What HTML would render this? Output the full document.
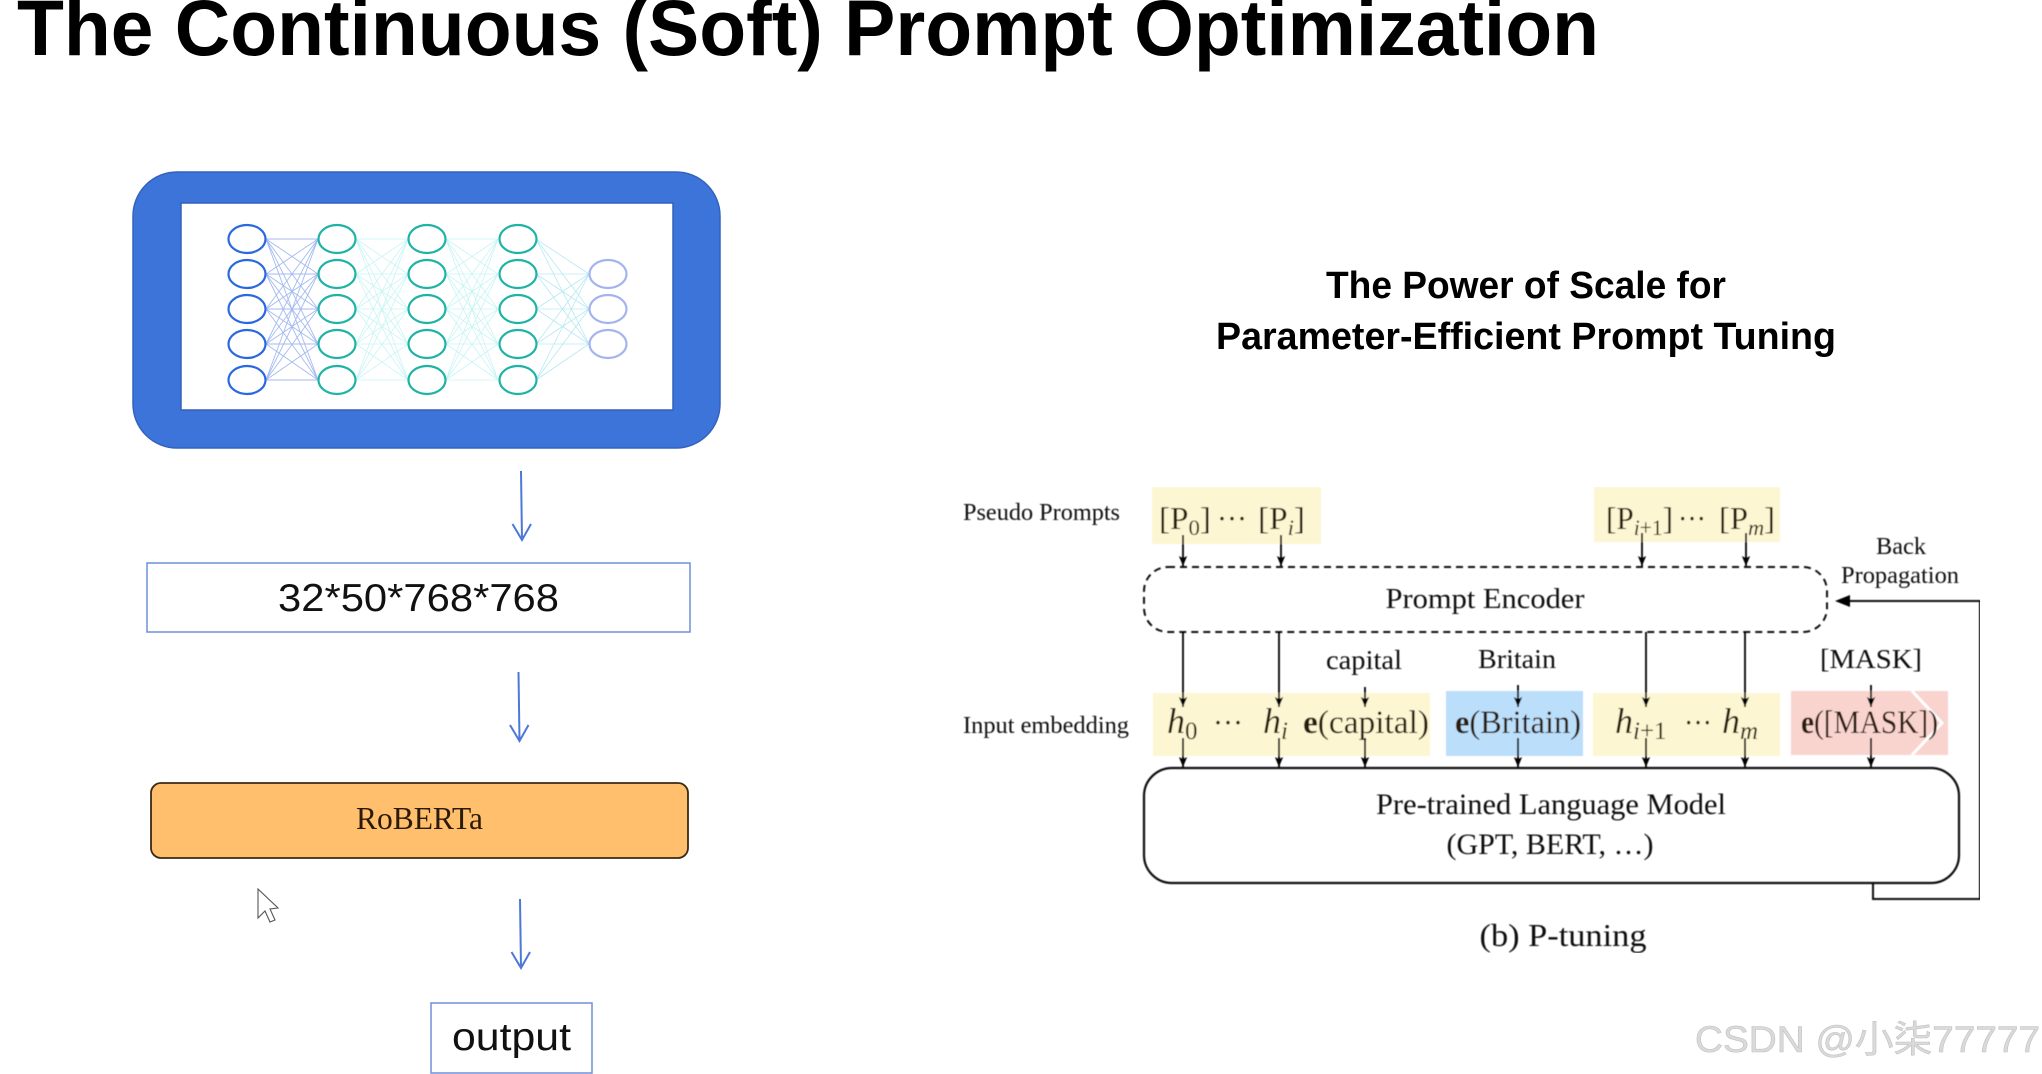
<!DOCTYPE html>
<html><head><meta charset="utf-8"><title>The Continuous (Soft) Prompt Optimization</title>
<style>
html,body{margin:0;padding:0;background:#fff;width:2042px;height:1074px;overflow:hidden}
svg{display:block}
.s{font-family:"Liberation Serif",serif;fill:#111}
.a{font-family:"Liberation Sans",sans-serif;fill:#000}
.m{font-family:"Liberation Serif",serif;fill:#2a1a08}
</style></head><body>
<svg width="2042" height="1074" viewBox="0 0 2042 1074" xmlns="http://www.w3.org/2000/svg">
<defs>
<filter id="b" x="0" y="0" width="100%" height="100%"><feGaussianBlur stdDeviation="0.45"/></filter>
<marker id="ah" markerUnits="userSpaceOnUse" markerWidth="10" markerHeight="14" refX="12" refY="5" orient="auto" viewBox="0 0 12 10"><path d="M0 0L12 5L0 10L2.500 5Z" fill="#000"/></marker>
<path id="c5" d="M0 239L52 239M0 239L52 274M0 239L52 309M0 239L52 344M0 239L52 380M0 274L52 239M0 274L52 274M0 274L52 309M0 274L52 344M0 274L52 380M0 309L52 239M0 309L52 274M0 309L52 309M0 309L52 344M0 309L52 380M0 344L52 239M0 344L52 274M0 344L52 309M0 344L52 344M0 344L52 380M0 380L52 239M0 380L52 274M0 380L52 309M0 380L52 344M0 380L52 380" fill="none"/>
<g id="ar" fill="none" stroke="#4c78d6" stroke-width="2"><path d="M0 0L1 69M-8.500 53L1 69L10 53"/></g>
</defs>
<rect width="2042" height="1074" fill="#fff"/>

<text class="a" x="17" y="55" font-size="79" font-weight="700" textLength="1582" lengthAdjust="spacingAndGlyphs">The Continuous (Soft) Prompt Optimization</text>

<!-- network -->
<rect x="133" y="172" width="587" height="276" rx="44" fill="#3c74d9" stroke="#3562bd" stroke-width="1.500"/>
<rect x="181" y="203" width="492" height="207" fill="#fff" stroke="#3360b8" stroke-width="1.500"/>
<use href="#c5" x="266" stroke="#7d9cea" stroke-width="0.900" opacity=".7"/>
<use href="#c5" x="356" stroke="#a3ecec" stroke-width="0.800" opacity=".6"/>
<use href="#c5" x="446" stroke="#a3ecec" stroke-width="0.800" opacity=".6"/>
<path d="M536 239L589 274M536 239L589 309M536 239L589 344M536 274L589 274M536 274L589 309M536 274L589 344M536 309L589 274M536 309L589 309M536 309L589 344M536 344L589 274M536 344L589 309M536 344L589 344M536 380L589 274M536 380L589 309M536 380L589 344" fill="none" stroke="#a3e3ee" stroke-width="0.800" opacity=".8"/>
<g fill="#fff" stroke="#2a68e0" stroke-width="2.200">
<ellipse cx="247" cy="239" rx="18.500" ry="14"/><ellipse cx="247" cy="274" rx="18.500" ry="14"/><ellipse cx="247" cy="309" rx="18.500" ry="14"/><ellipse cx="247" cy="344" rx="18.500" ry="14"/><ellipse cx="247" cy="380" rx="18.500" ry="14"/>
</g>
<g fill="#fff" stroke="#1fb3a5" stroke-width="2.200">
<ellipse cx="337" cy="239" rx="18.500" ry="14"/><ellipse cx="337" cy="274" rx="18.500" ry="14"/><ellipse cx="337" cy="309" rx="18.500" ry="14"/><ellipse cx="337" cy="344" rx="18.500" ry="14"/><ellipse cx="337" cy="380" rx="18.500" ry="14"/>
<ellipse cx="427" cy="239" rx="18.500" ry="14"/><ellipse cx="427" cy="274" rx="18.500" ry="14"/><ellipse cx="427" cy="309" rx="18.500" ry="14"/><ellipse cx="427" cy="344" rx="18.500" ry="14"/><ellipse cx="427" cy="380" rx="18.500" ry="14"/>
<ellipse cx="518" cy="239" rx="18.500" ry="14"/><ellipse cx="518" cy="274" rx="18.500" ry="14"/><ellipse cx="518" cy="309" rx="18.500" ry="14"/><ellipse cx="518" cy="344" rx="18.500" ry="14"/><ellipse cx="518" cy="380" rx="18.500" ry="14"/>
</g>
<g fill="#fff" stroke="#a3b4ee" stroke-width="2.200">
<ellipse cx="608" cy="274" rx="18.500" ry="14"/><ellipse cx="608" cy="309" rx="18.500" ry="14"/><ellipse cx="608" cy="344" rx="18.500" ry="14"/>
</g>

<!-- left flow -->
<use href="#ar" x="521" y="471"/>
<rect x="147" y="563" width="543" height="69" fill="#fff" stroke="#6f8fd8" stroke-width="1.500"/>
<text class="a" x="278" y="611" font-size="39" textLength="281" lengthAdjust="spacingAndGlyphs" style="fill:#111">32*50*768*768</text>
<use href="#ar" x="518.500" y="672"/>
<rect x="151" y="783" width="537" height="75" rx="10" fill="#ffbf6d" stroke="#3a2a12" stroke-width="1.800"/>
<text class="s" x="356" y="829" font-size="32" textLength="127" lengthAdjust="spacingAndGlyphs" style="fill:#2a1a08">RoBERTa</text>
<use href="#ar" x="520" y="899"/>
<rect x="431" y="1003" width="161" height="70" fill="#fff" stroke="#6f8fd8" stroke-width="1.500"/>
<text class="a" x="452" y="1050" font-size="39" textLength="119" lengthAdjust="spacingAndGlyphs" style="fill:#111">output</text>
<path d="M258 889L258 918L265 911L270 922L275 920L270 909L278 908Z" fill="#fff" stroke="#555" stroke-width="1.100"/>

<!-- right title -->
<text class="a" x="1526" y="298" font-size="38" font-weight="700" text-anchor="middle" textLength="400" lengthAdjust="spacingAndGlyphs">The Power of Scale for</text>
<text class="a" x="1526" y="349" font-size="38" font-weight="700" text-anchor="middle" textLength="620" lengthAdjust="spacingAndGlyphs">Parameter-Efficient Prompt Tuning</text>

<!-- P-tuning -->
<g filter="url(#b)">
<rect x="1152" y="487" width="169" height="57" fill="#fdf6d2"/>
<rect x="1594" y="487" width="186" height="55" fill="#fdf6d2"/>
<rect x="1153" y="693" width="277" height="63" fill="#fdf6d2"/>
<rect x="1446" y="691" width="137" height="65" fill="#bbdefb"/>
<rect x="1593" y="693" width="187" height="63" fill="#fdf6d2"/>
<rect x="1791" y="691" width="157" height="64" fill="#f9d3ce"/>
<path d="M1912 691L1942 723L1912 755" fill="none" stroke="#fff" stroke-width="3"/>

<text class="s" x="963" y="520" font-size="24" textLength="157" lengthAdjust="spacingAndGlyphs">Pseudo Prompts</text>
<text class="s" x="963" y="733" font-size="24" textLength="166" lengthAdjust="spacingAndGlyphs">Input embedding</text>

<text class="m" font-size="32" x="1159" y="529" textLength="52" lengthAdjust="spacingAndGlyphs">[P<tspan font-size="22" dy="6">0</tspan><tspan dy="-6">]</tspan></text>
<text class="m" font-size="32" x="1217" y="529" textLength="30" lengthAdjust="spacingAndGlyphs">···</text>
<text class="m" font-size="32" x="1258" y="529" textLength="47" lengthAdjust="spacingAndGlyphs">[P<tspan font-size="22" dy="6" font-style="italic">i</tspan><tspan dy="-6">]</tspan></text>
<text class="m" font-size="32" x="1606" y="529" textLength="67" lengthAdjust="spacingAndGlyphs">[P<tspan font-size="22" dy="6"><tspan font-style="italic">i</tspan>+1</tspan><tspan dy="-6">]</tspan></text>
<text class="m" font-size="32" x="1678" y="529" textLength="28" lengthAdjust="spacingAndGlyphs">···</text>
<text class="m" font-size="32" x="1719" y="529" textLength="56" lengthAdjust="spacingAndGlyphs">[P<tspan font-size="22" dy="6" font-style="italic">m</tspan><tspan dy="-6">]</tspan></text>

<rect x="1144" y="567" width="683" height="65" rx="24" fill="none" stroke="#111" stroke-width="2" stroke-dasharray="7 5"/>
<text class="s" x="1485" y="608" font-size="29" text-anchor="middle" textLength="199" lengthAdjust="spacingAndGlyphs">Prompt Encoder</text>
<text class="s" x="1901" y="554" font-size="24" text-anchor="middle" textLength="50" lengthAdjust="spacingAndGlyphs">Back</text>
<text class="s" x="1841" y="583" font-size="24" textLength="118" lengthAdjust="spacingAndGlyphs">Propagation</text>
<text class="s" x="1364" y="669" font-size="27" text-anchor="middle" textLength="76" lengthAdjust="spacingAndGlyphs">capital</text>
<text class="s" x="1517" y="668" font-size="27" text-anchor="middle" textLength="78" lengthAdjust="spacingAndGlyphs">Britain</text>
<text class="s" x="1871" y="668" font-size="27" text-anchor="middle" textLength="102" lengthAdjust="spacingAndGlyphs">[MASK]</text>

<text class="m" font-size="36" x="1167" y="733" font-style="italic">h<tspan font-size="25" dy="6" font-style="normal">0</tspan></text>
<text class="m" font-size="32" x="1213" y="733" textLength="30" lengthAdjust="spacingAndGlyphs">···</text>
<text class="m" font-size="36" x="1263" y="733" font-style="italic">h<tspan font-size="25" dy="6">i</tspan></text>
<text class="m" font-size="33" x="1303" y="733" textLength="126" lengthAdjust="spacingAndGlyphs"><tspan font-weight="700">e</tspan>(capital)</text>
<text class="m" font-size="33" x="1455" y="733" textLength="126" lengthAdjust="spacingAndGlyphs"><tspan font-weight="700">e</tspan>(Britain)</text>
<text class="m" font-size="36" x="1615" y="733" font-style="italic">h<tspan font-size="25" dy="6">i</tspan><tspan font-size="25" font-style="normal">+1</tspan></text>
<text class="m" font-size="32" x="1684" y="733" textLength="28" lengthAdjust="spacingAndGlyphs">···</text>
<text class="m" font-size="36" x="1722" y="733" font-style="italic">h<tspan font-size="25" dy="6">m</tspan></text>
<text class="m" font-size="33" x="1801" y="733" textLength="137" lengthAdjust="spacingAndGlyphs"><tspan font-weight="700">e</tspan>([MASK])</text>

<rect x="1144" y="768" width="815" height="115" rx="28" fill="none" stroke="#111" stroke-width="2.200"/>
<text class="s" x="1551" y="814" font-size="30" text-anchor="middle" textLength="350" lengthAdjust="spacingAndGlyphs">Pre-trained Language Model</text>
<text class="s" x="1550" y="854" font-size="30" text-anchor="middle" textLength="207" lengthAdjust="spacingAndGlyphs">(GPT, BERT, …)</text>
<text class="s" x="1563" y="946" font-size="32" text-anchor="middle" textLength="167" lengthAdjust="spacingAndGlyphs">(b) P-tuning</text>

<g fill="none" stroke="#000" stroke-width="1.800" marker-end="url(#ah)">
<path d="M1183 535V566"/><path d="M1281 535V566"/><path d="M1642 533V566"/><path d="M1746 533V566"/>
<path d="M1183 632V707"/><path d="M1279 632V707"/><path d="M1646 632V707"/><path d="M1745 632V707"/>
<path d="M1365 687V707"/><path d="M1518 685V707"/><path d="M1871 685V707"/>
<path d="M1183 738V767"/><path d="M1279 738V767"/><path d="M1365 738V767"/><path d="M1518 738V767"/><path d="M1646 738V767"/><path d="M1745 738V767"/><path d="M1871 738V767"/>
</g>
<path d="M1873 883V899H1980V601H1845" fill="none" stroke="#111" stroke-width="2"/>
<path d="M1835 601L1850 595V607Z" fill="#000"/>
</g>

<text x="1695" y="1052" font-size="37" font-family="'Liberation Sans','Noto Sans CJK SC',sans-serif" fill="#dadada" stroke="#c2c2c2" stroke-width="0.600" textLength="345" lengthAdjust="spacingAndGlyphs">CSDN @小柒77777</text>
</svg>
</body></html>
